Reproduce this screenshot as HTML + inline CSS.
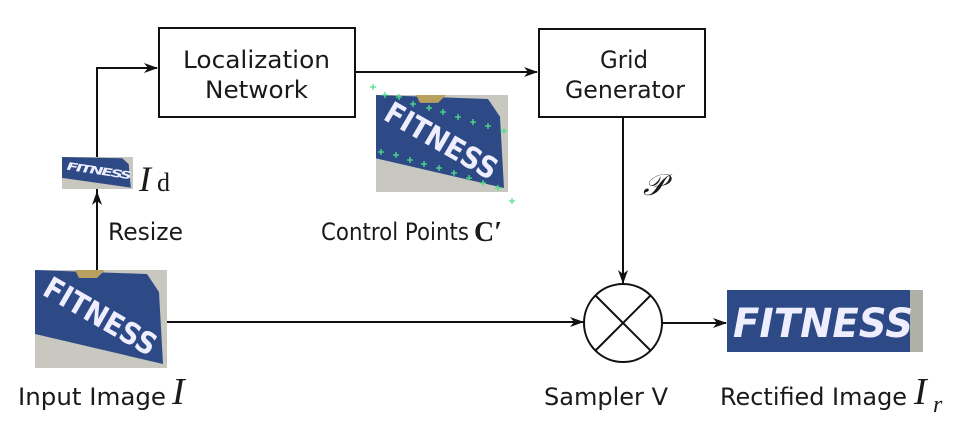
<!DOCTYPE html>
<html><head><meta charset="utf-8"><style>
html,body{margin:0;padding:0;background:#fff;}
svg{display:block;}
.t{font-family:"DejaVu Sans","Liberation Sans",sans-serif;font-size:24px;fill:#1a1a1a;}
.m{font-family:"Liberation Serif",serif;font-style:italic;fill:#1a1a1a;}
</style></head><body>
<svg width="964" height="442" viewBox="0 0 964 442" xmlns="http://www.w3.org/2000/svg">
<defs>
<marker id="ah" viewBox="0 0 14 10" refX="13" refY="5" markerWidth="14" markerHeight="10" markerUnits="userSpaceOnUse" orient="auto">
<path d="M0,0 L14,5 L0,10 L4,5 Z" fill="#111"/>
</marker>
</defs>
<g stroke="#111" stroke-width="2" fill="none">
<rect x="159" y="28" width="196" height="89"/>
<rect x="539" y="29" width="166" height="88"/>
<polyline points="97,270 97,68 157,68" marker-end="url(#ah)"/>
<line x1="97" y1="270" x2="97" y2="192" marker-end="url(#ah)"/>
<line x1="355" y1="72" x2="537" y2="72" marker-end="url(#ah)"/>
<line x1="623" y1="117" x2="623" y2="283" marker-end="url(#ah)"/>
<line x1="167" y1="322" x2="583" y2="322" marker-end="url(#ah)"/>
<line x1="662" y1="323" x2="726" y2="323" marker-end="url(#ah)"/>
<circle cx="623" cy="323" r="39"/>
<line x1="595" y1="295" x2="651" y2="351"/>
<line x1="651" y1="295" x2="595" y2="351"/>
</g>
<!-- input image -->
<svg x="35" y="270" width="132" height="98" viewBox="0 0 132 98" preserveAspectRatio="none">
<rect width="132" height="98" fill="#c8c8c0"/>
<polygon points="0,0 112,4 124,22 128,94 0,64" fill="#2e4a86"/>
<polygon points="40,0 70,0 62,8 44,8" fill="#b8a060"/>
<text x="6" y="24" transform="rotate(30 6 24)" font-family="DejaVu Sans" font-weight="bold" font-size="30" fill="#eef" textLength="125" lengthAdjust="spacingAndGlyphs">FITNESS</text>
</svg>
<!-- small image -->
<svg x="62" y="157" width="71" height="32" viewBox="0 0 132 98" preserveAspectRatio="none">
<rect width="132" height="98" fill="#c8c8c0"/>
<polygon points="0,0 112,4 124,22 128,94 0,64" fill="#2e4a86"/>
<text x="6" y="38" transform="rotate(14 6 38)" font-family="DejaVu Sans" font-weight="bold" font-size="32" fill="#eef" textLength="125">FITNESS</text>
</svg>
<!-- control points image -->
<svg x="376" y="95" width="132" height="97" viewBox="0 0 132 98" preserveAspectRatio="none">
<rect width="132" height="98" fill="#c8c8c0"/>
<polygon points="0,0 112,4 124,22 128,94 0,64" fill="#2e4a86"/>
<polygon points="40,0 70,0 62,8 44,8" fill="#b8a060"/>
<text x="6" y="24" transform="rotate(30 6 24)" font-family="DejaVu Sans" font-weight="bold" font-size="30" fill="#eef" textLength="125" lengthAdjust="spacingAndGlyphs">FITNESS</text>
</svg>
<g stroke="#4ee08a" stroke-width="1.3">
<path d="M370,87h6M373,84v6 M382,95h6M385,92v6 M396,97h6M399,94v6 M410,104h6M413,101v6 M426,108h6M429,105v6 M440,112h6M443,109v6 M455,117h6M458,114v6 M470,122h6M473,119v6 M485,126h6M488,123v6 M501,131h6M504,128v6"/>
<path d="M378,152h6M381,149v6 M393,155h6M396,152v6 M407,160h6M410,157v6 M421,164h6M424,161v6 M436,168h6M439,165v6 M451,173h6M454,170v6 M466,178h6M469,175v6 M480,183h6M483,180v6 M495,188h6M498,185v6 M509,201h6M512,198v6"/>
</g>
<!-- rectified image -->
<svg x="727" y="290" width="196" height="62" viewBox="0 0 196 62" preserveAspectRatio="none">
<rect width="196" height="62" fill="#2e4a86"/>
<rect x="183" y="0" width="13" height="62" fill="#b0b0a8"/>
<text x="6" y="47" font-family="DejaVu Sans" font-weight="bold" font-style="italic" font-size="40" fill="#eef" textLength="180" lengthAdjust="spacingAndGlyphs">FITNESS</text>
</svg>
<!-- labels -->
<text class="t" x="183" y="68" textLength="147" lengthAdjust="spacingAndGlyphs">Localization</text>
<text class="t" x="205" y="98" textLength="103" lengthAdjust="spacingAndGlyphs">Network</text>
<text class="t" x="600" y="68" textLength="48" lengthAdjust="spacingAndGlyphs">Grid</text>
<text class="t" x="565" y="98" textLength="120" lengthAdjust="spacingAndGlyphs">Generator</text>
<text class="m" x="139" y="191" font-size="36">I</text>
<text x="157" y="191" font-family="Liberation Serif,serif" font-size="26" fill="#1a1a1a">d</text>
<text class="t" x="108" y="240" textLength="75" lengthAdjust="spacingAndGlyphs">Resize</text>
<text class="t" x="321" y="240" textLength="148" lengthAdjust="spacingAndGlyphs">Control Points</text>
<text x="474" y="241" font-family="Liberation Serif,serif" font-weight="bold" font-size="28" fill="#1a1a1a">C′</text>
<text class="m" x="643" y="195" font-size="30">𝒫</text>
<text class="t" x="18" y="405" textLength="148" lengthAdjust="spacingAndGlyphs">Input Image</text>
<text class="m" x="172" y="404" font-size="38">I</text>
<text class="t" x="544" y="405" textLength="124" lengthAdjust="spacingAndGlyphs">Sampler V</text>
<text class="t" x="720" y="405" textLength="187" lengthAdjust="spacingAndGlyphs">Rectified Image</text>
<text class="m" x="914" y="404" font-size="38">I</text>
<text class="m" x="933" y="412" font-size="24">r</text>
</svg>
</body></html>
